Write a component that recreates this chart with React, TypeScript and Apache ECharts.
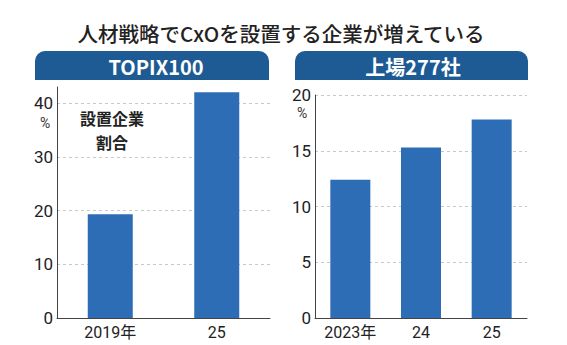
import React, { useEffect, useRef } from "react";
import * as echarts from "echarts";

const titleText = "人材戦略でCxOを設置する企業が増えている";
const panelTitles = ["TOPIX100", "上場277社"];
const topixCategories = ["2019年", "25"];
const topixValues = [19.3, 42.0];
const listedCategories = ["2023年", "24", "25"];
const listedValues = [12.4, 15.3, 17.8];
const noteLines = ["設置企業", "割合"];

const NUM_FONT = "Roboto, 'Noto Sans CJK JP', sans-serif";
const JP_FONT = "'Noto Sans CJK JP', sans-serif";
const BAR = "#2c6db5";
const HEAD = "#1e5b94";

export default function App() {
  const ref = useRef<HTMLDivElement>(null);
  useEffect(() => {
    if (!ref.current) return;
    const chart = echarts.init(ref.current, null, { renderer: "svg" });
    const xAxisCommon = {
      type: "category" as const,
      axisLine: { lineStyle: { color: "#444", width: 1 } },
      axisTick: { show: false },
      axisLabel: { color: "#222", fontSize: 16, fontFamily: NUM_FONT, margin: 6, interval: 0 },
    };
    const yAxisCommon = {
      type: "value" as const,
      min: 0,
      axisLine: { show: true, lineStyle: { color: "#444", width: 1 } },
      axisTick: { show: false },
      axisLabel: { color: "#222", fontSize: 17, fontFamily: NUM_FONT, margin: 4, showMaxLabel: true },
      splitLine: { show: true, lineStyle: { color: "#c8c8c8", type: [3, 3] as any, width: 1 } },
    };
    chart.setOption({
      animation: false,
      backgroundColor: "#fff",
      grid: [
        { left: 57, right: 297, top: 87, bottom: 27 },
        { left: 315, right: 40, top: 95, bottom: 27 },
      ],
      xAxis: [
        { ...xAxisCommon, gridIndex: 0, data: topixCategories },
        { ...xAxisCommon, gridIndex: 1, data: listedCategories },
      ],
      yAxis: [
        {
          ...yAxisCommon,
          gridIndex: 0,
          max: 43,
          interval: 10,
          axisLabel: { ...yAxisCommon.axisLabel, showMaxLabel: false },
          splitLine: { ...yAxisCommon.splitLine, showMaxLine: false },
        },
        { ...yAxisCommon, gridIndex: 1, max: 20, interval: 5 },
      ],
      series: [
        { type: "bar", xAxisIndex: 0, yAxisIndex: 0, data: topixValues, barWidth: 45, itemStyle: { color: BAR } },
        { type: "bar", xAxisIndex: 1, yAxisIndex: 1, data: listedValues, barWidth: 40, itemStyle: { color: BAR } },
      ],
      graphic: [
        {
          type: "text", x: 281, y: 33,
          style: { text: titleText, fill: "#222", font: `500 20.5px ${JP_FONT}`, textAlign: "center", textVerticalAlign: "middle" },
        },
        { type: "rect", shape: { x: 35, y: 51, width: 234, height: 29, r: [10, 10, 0, 0] }, style: { fill: HEAD } },
        { type: "rect", shape: { x: 295, y: 51, width: 233, height: 29, r: [10, 10, 0, 0] }, style: { fill: HEAD } },
        {
          type: "text", x: 156, y: 66,
          style: { text: panelTitles[0], fill: "#fff", font: `bold 20px ${JP_FONT}`, textAlign: "center", textVerticalAlign: "middle" },
        },
        {
          type: "text", x: 413, y: 66,
          style: { text: panelTitles[1], fill: "#fff", font: `bold 20px ${JP_FONT}`, textAlign: "center", textVerticalAlign: "middle" },
        },
        {
          type: "text", x: 45, y: 123,
          style: { text: "%", fill: "#333", font: `14px ${NUM_FONT}`, textAlign: "center", textVerticalAlign: "middle" },
        },
        {
          type: "text", x: 302, y: 113,
          style: { text: "%", fill: "#333", font: `14px ${NUM_FONT}`, textAlign: "center", textVerticalAlign: "middle" },
        },
        {
          type: "text", x: 112, y: 118,
          style: { text: noteLines[0], fill: "#222", font: `bold 16px ${JP_FONT}`, lineHeight: 16, textAlign: "center", textVerticalAlign: "middle" },
        },
        {
          type: "text", x: 112, y: 142,
          style: { text: noteLines[1], fill: "#222", font: `bold 16px ${JP_FONT}`, lineHeight: 16, textAlign: "center", textVerticalAlign: "middle" },
        },
      ],
    });
    return () => chart.dispose();
  }, []);
  return <div ref={ref} style={{ width: 567, height: 345, position: "absolute", left: 0, top: 0 }} />;
}
